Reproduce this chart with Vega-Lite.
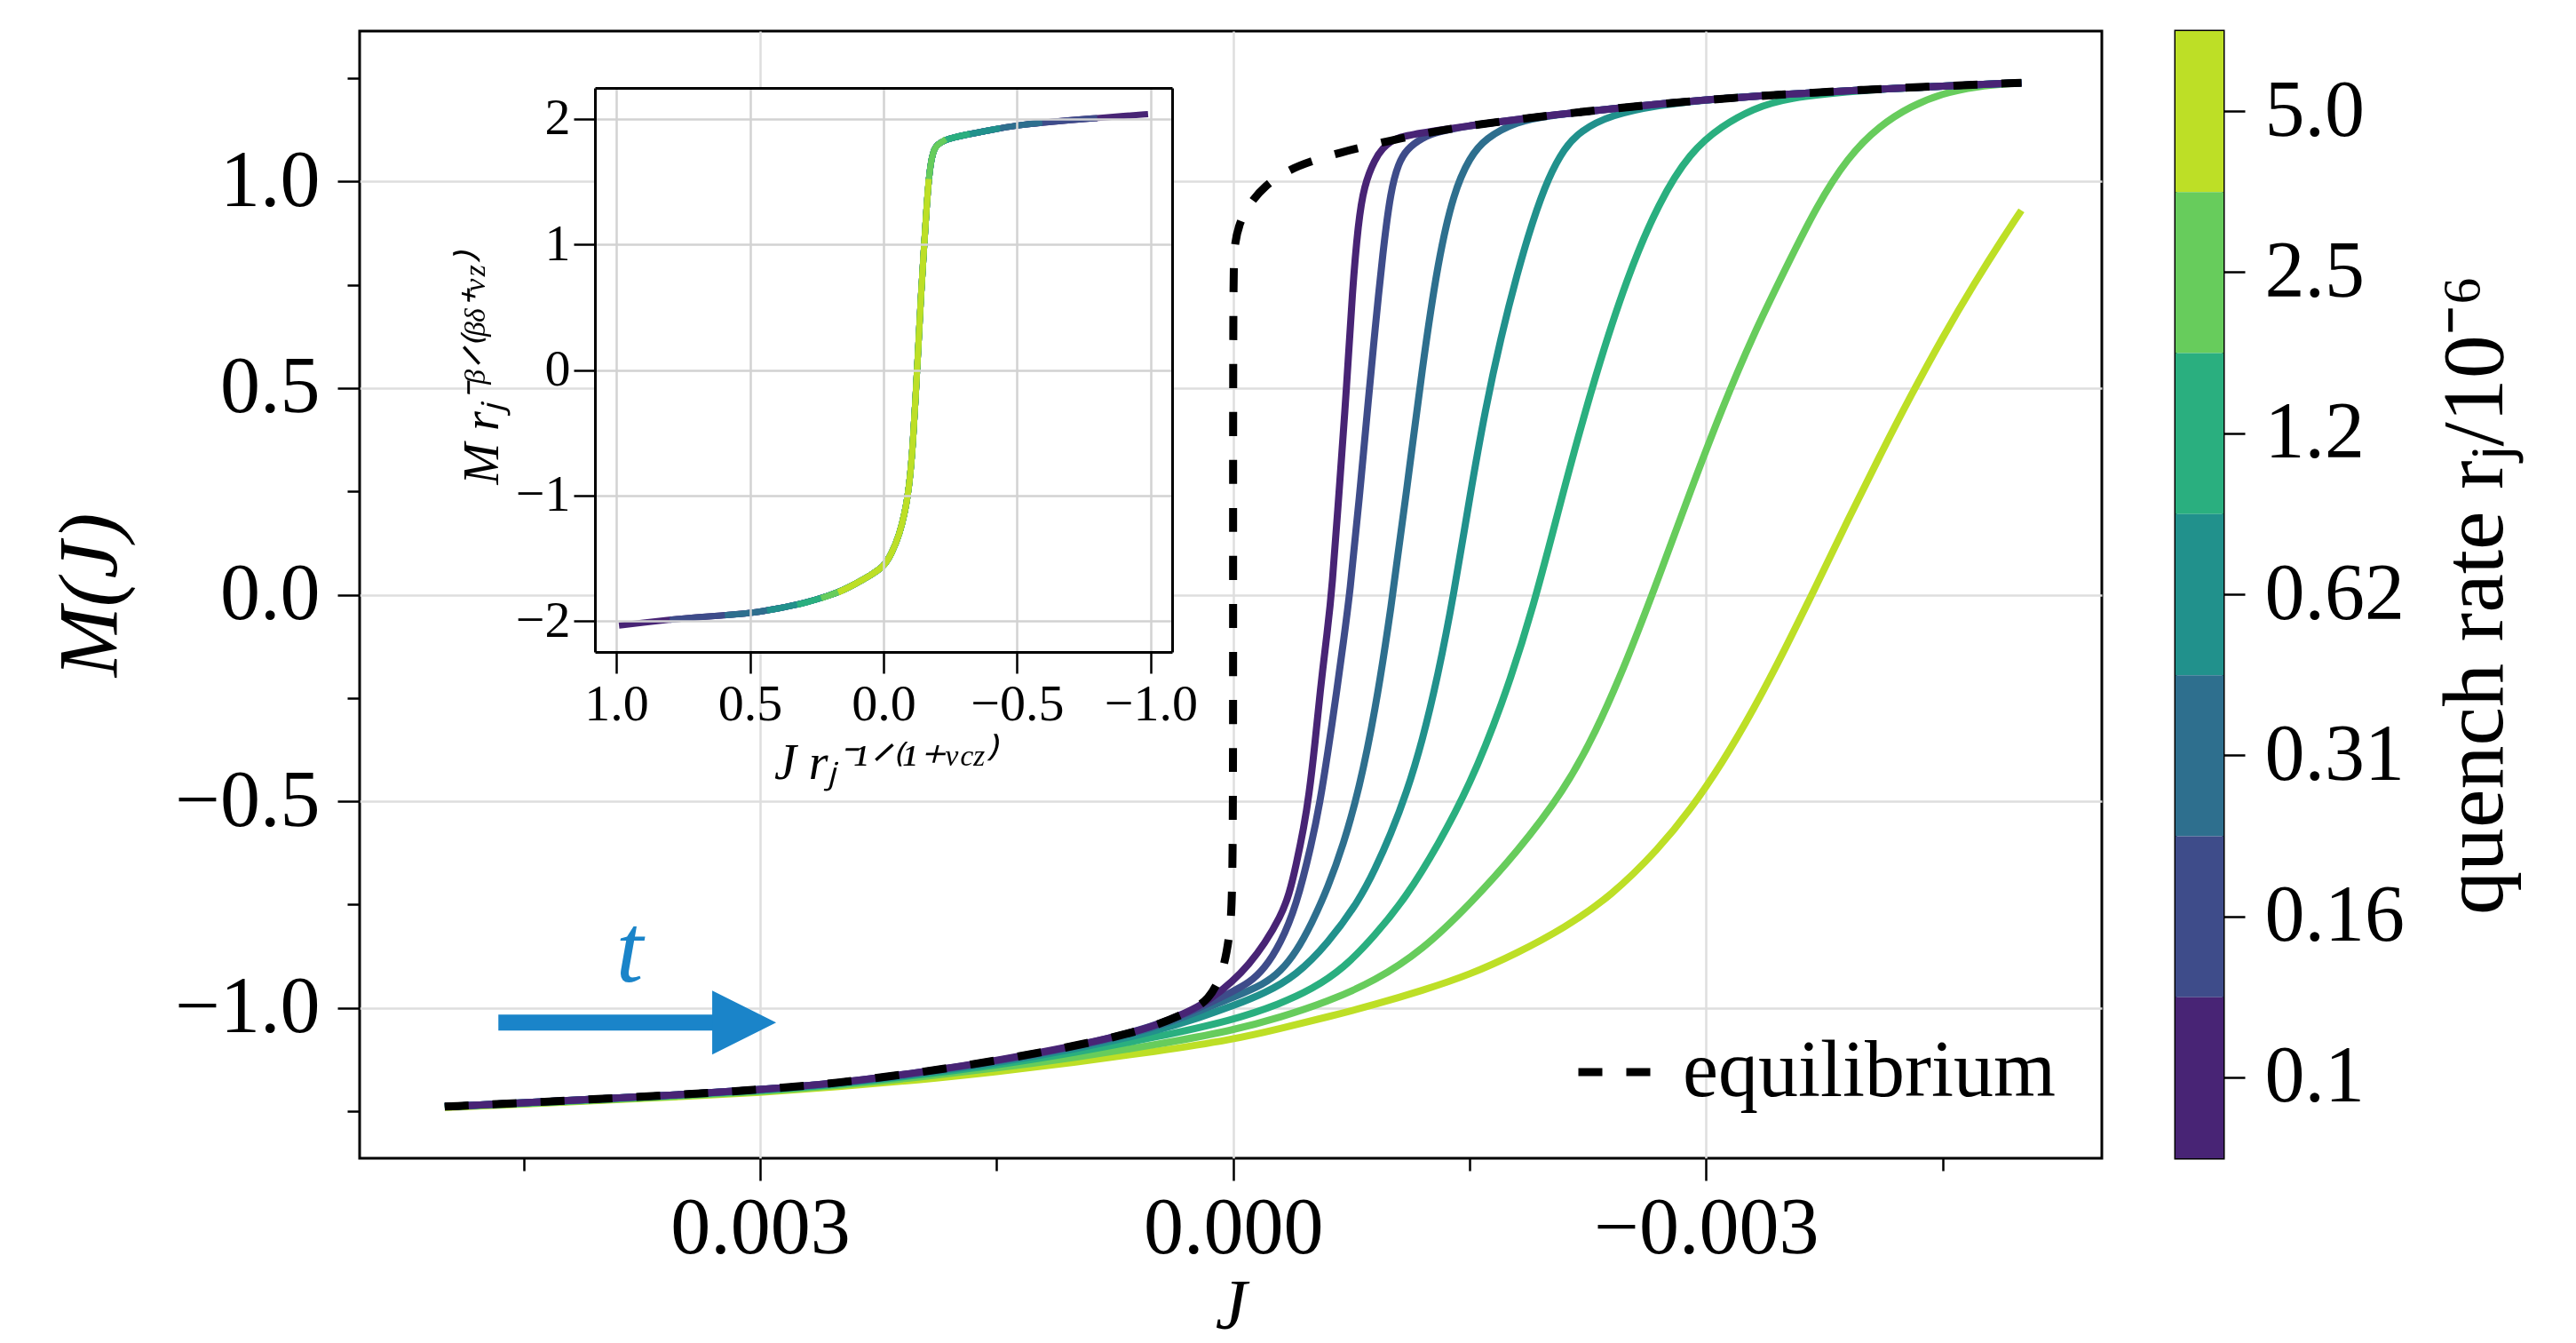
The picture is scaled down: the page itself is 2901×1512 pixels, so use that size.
{
  "$schema": "https://vega.github.io/schema/vega-lite/v6.json",
  "background": "white",
  "padding": {"left": 53, "top": 33, "right": 10, "bottom": 0},
  "bounds": "flush",
  "spacing": 83,
  "config": {
    "view": {"stroke": "black", "strokeWidth": 3},
    "font": "Liberation Serif",
    "axis": {"labelFont": "Liberation Serif", "titleFont": "Liberation Serif", "titleFontWeight": "normal", "labelColor": "black", "titleColor": "black", "tickColor": "black", "domainColor": "black", "labelFlush": false, "labelOverlap": false, "labelLimit": 0, "titleLimit": 0},
    "legend": {"labelFont": "Liberation Serif"}
  },
  "datasets": {
    "main": [
      {"rate":"5.0","J":0.005,"M":-1.241},{"rate":"5.0","J":0.0045,"M":-1.233},{"rate":"5.0","J":0.004,"M":-1.224},{"rate":"5.0","J":0.0035,"M":-1.215},{"rate":"5.0","J":0.003,"M":-1.205},{"rate":"5.0","J":0.0025,"M":-1.191},{"rate":"5.0","J":0.002,"M":-1.175},{"rate":"5.0","J":0.0015,"M":-1.155},{"rate":"5.0","J":0.001,"M":-1.132},{"rate":"5.0","J":0.0005,"M":-1.106},{"rate":"5.0","J":0,"M":-1.077},{"rate":"5.0","J":-0.0003,"M":-1.05},{"rate":"5.0","J":-0.0006,"M":-1.022},{"rate":"5.0","J":-0.0009,"M":-0.992},{"rate":"5.0","J":-0.0012,"M":-0.958},{"rate":"5.0","J":-0.0015,"M":-0.92},{"rate":"5.0","J":-0.0018,"M":-0.868},{"rate":"5.0","J":-0.0021,"M":-0.807},{"rate":"5.0","J":-0.0024,"M":-0.729},{"rate":"5.0","J":-0.0027,"M":-0.615},{"rate":"5.0","J":-0.0029,"M":-0.521},{"rate":"5.0","J":-0.0031,"M":-0.409},{"rate":"5.0","J":-0.0033,"M":-0.279},{"rate":"5.0","J":-0.0035,"M":-0.133},{"rate":"5.0","J":-0.0037,"M":0.023},{"rate":"5.0","J":-0.0039,"M":0.181},{"rate":"5.0","J":-0.0041,"M":0.335},{"rate":"5.0","J":-0.0043,"M":0.483},{"rate":"5.0","J":-0.0045,"M":0.623},{"rate":"5.0","J":-0.0047,"M":0.753},{"rate":"5.0","J":-0.0049,"M":0.873},{"rate":"5.0","J":-0.005,"M":0.93},
      {"rate":"2.5","J":0.005,"M":-1.24},{"rate":"2.5","J":0.0045,"M":-1.232},{"rate":"2.5","J":0.004,"M":-1.223},{"rate":"2.5","J":0.0035,"M":-1.213},{"rate":"2.5","J":0.003,"M":-1.203},{"rate":"2.5","J":0.0025,"M":-1.188},{"rate":"2.5","J":0.002,"M":-1.168},{"rate":"2.5","J":0.0015,"M":-1.146},{"rate":"2.5","J":0.001,"M":-1.12},{"rate":"2.5","J":0.0005,"M":-1.09},{"rate":"2.5","J":0,"M":-1.055},{"rate":"2.5","J":-0.0003,"M":-1.023},{"rate":"2.5","J":-0.0006,"M":-0.985},{"rate":"2.5","J":-0.0009,"M":-0.935},{"rate":"2.5","J":-0.0012,"M":-0.861},{"rate":"2.5","J":-0.0015,"M":-0.75},{"rate":"2.5","J":-0.0018,"M":-0.624},{"rate":"2.5","J":-0.0021,"M":-0.474},{"rate":"2.5","J":-0.0023,"M":-0.334},{"rate":"2.5","J":-0.0025,"M":-0.158},{"rate":"2.5","J":-0.0027,"M":0.042},{"rate":"2.5","J":-0.0029,"M":0.25},{"rate":"2.5","J":-0.0031,"M":0.45},{"rate":"2.5","J":-0.0033,"M":0.63},{"rate":"2.5","J":-0.0035,"M":0.786},{"rate":"2.5","J":-0.0037,"M":0.94},{"rate":"2.5","J":-0.0039,"M":1.06},{"rate":"2.5","J":-0.0041,"M":1.135},{"rate":"2.5","J":-0.0043,"M":1.183},{"rate":"2.5","J":-0.0045,"M":1.213},{"rate":"2.5","J":-0.0047,"M":1.23},{"rate":"2.5","J":-0.005,"M":1.239},
      {"rate":"1.2","J":0.005,"M":-1.239},{"rate":"1.2","J":0.0045,"M":-1.231},{"rate":"1.2","J":0.004,"M":-1.221},{"rate":"1.2","J":0.0035,"M":-1.211},{"rate":"1.2","J":0.003,"M":-1.2},{"rate":"1.2","J":0.0025,"M":-1.185},{"rate":"1.2","J":0.002,"M":-1.163},{"rate":"1.2","J":0.0015,"M":-1.139},{"rate":"1.2","J":0.001,"M":-1.108},{"rate":"1.2","J":0.0005,"M":-1.072},{"rate":"1.2","J":0,"M":-1.03},{"rate":"1.2","J":-0.0003,"M":-0.99},{"rate":"1.2","J":-0.0005,"M":-0.955},{"rate":"1.2","J":-0.0007,"M":-0.905},{"rate":"1.2","J":-0.0009,"M":-0.825},{"rate":"1.2","J":-0.0011,"M":-0.731},{"rate":"1.2","J":-0.0013,"M":-0.606},{"rate":"1.2","J":-0.0015,"M":-0.462},{"rate":"1.2","J":-0.0017,"M":-0.273},{"rate":"1.2","J":-0.0019,"M":-0.04},{"rate":"1.2","J":-0.0021,"M":0.26},{"rate":"1.2","J":-0.0023,"M":0.535},{"rate":"1.2","J":-0.0025,"M":0.77},{"rate":"1.2","J":-0.0027,"M":0.95},{"rate":"1.2","J":-0.0029,"M":1.072},{"rate":"1.2","J":-0.0031,"M":1.135},{"rate":"1.2","J":-0.0033,"M":1.176},{"rate":"1.2","J":-0.0035,"M":1.202},{"rate":"1.2","J":-0.004,"M":1.222},{"rate":"1.2","J":-0.0045,"M":1.231},{"rate":"1.2","J":-0.005,"M":1.239},
      {"rate":"0.62","J":0.005,"M":-1.239},{"rate":"0.62","J":0.0045,"M":-1.23},{"rate":"0.62","J":0.004,"M":-1.22},{"rate":"0.62","J":0.0035,"M":-1.21},{"rate":"0.62","J":0.003,"M":-1.199},{"rate":"0.62","J":0.0025,"M":-1.184},{"rate":"0.62","J":0.002,"M":-1.16},{"rate":"0.62","J":0.0015,"M":-1.134},{"rate":"0.62","J":0.001,"M":-1.1},{"rate":"0.62","J":0.0005,"M":-1.058},{"rate":"0.62","J":0.0002,"M":-1.022},{"rate":"0.62","J":0,"M":-0.995},{"rate":"0.62","J":-0.0002,"M":-0.965},{"rate":"0.62","J":-0.0004,"M":-0.922},{"rate":"0.62","J":-0.0006,"M":-0.845},{"rate":"0.62","J":-0.0008,"M":-0.74},{"rate":"0.62","J":-0.0009,"M":-0.665},{"rate":"0.62","J":-0.001,"M":-0.58},{"rate":"0.62","J":-0.0011,"M":-0.48},{"rate":"0.62","J":-0.0012,"M":-0.355},{"rate":"0.62","J":-0.0013,"M":-0.195},{"rate":"0.62","J":-0.0014,"M":0.0},{"rate":"0.62","J":-0.0015,"M":0.235},{"rate":"0.62","J":-0.0016,"M":0.45},{"rate":"0.62","J":-0.0017,"M":0.625},{"rate":"0.62","J":-0.0018,"M":0.775},{"rate":"0.62","J":-0.0019,"M":0.905},{"rate":"0.62","J":-0.002,"M":1.01},{"rate":"0.62","J":-0.0021,"M":1.08},{"rate":"0.62","J":-0.0022,"M":1.122},{"rate":"0.62","J":-0.0024,"M":1.162},{"rate":"0.62","J":-0.0027,"M":1.185},{"rate":"0.62","J":-0.003,"M":1.198},{"rate":"0.62","J":-0.0035,"M":1.211},{"rate":"0.62","J":-0.004,"M":1.222},{"rate":"0.62","J":-0.0045,"M":1.231},{"rate":"0.62","J":-0.005,"M":1.239},
      {"rate":"0.31","J":0.005,"M":-1.239},{"rate":"0.31","J":0.0045,"M":-1.23},{"rate":"0.31","J":0.004,"M":-1.22},{"rate":"0.31","J":0.0035,"M":-1.21},{"rate":"0.31","J":0.003,"M":-1.198},{"rate":"0.31","J":0.0025,"M":-1.183},{"rate":"0.31","J":0.002,"M":-1.158},{"rate":"0.31","J":0.0015,"M":-1.13},{"rate":"0.31","J":0.001,"M":-1.095},{"rate":"0.31","J":0.0005,"M":-1.05},{"rate":"0.31","J":0.0002,"M":-1.005},{"rate":"0.31","J":0,"M":-0.975},{"rate":"0.31","J":-0.0002,"M":-0.942},{"rate":"0.31","J":-0.0003,"M":-0.912},{"rate":"0.31","J":-0.0004,"M":-0.865},{"rate":"0.31","J":-0.0005,"M":-0.795},{"rate":"0.31","J":-0.0006,"M":-0.71},{"rate":"0.31","J":-0.0007,"M":-0.605},{"rate":"0.31","J":-0.0008,"M":-0.47},{"rate":"0.31","J":-0.0009,"M":-0.285},{"rate":"0.31","J":-0.001,"M":-0.04},{"rate":"0.31","J":-0.0011,"M":0.25},{"rate":"0.31","J":-0.0012,"M":0.55},{"rate":"0.31","J":-0.0013,"M":0.81},{"rate":"0.31","J":-0.0014,"M":0.975},{"rate":"0.31","J":-0.0015,"M":1.058},{"rate":"0.31","J":-0.0016,"M":1.105},{"rate":"0.31","J":-0.0018,"M":1.145},{"rate":"0.31","J":-0.002,"M":1.16},{"rate":"0.31","J":-0.0025,"M":1.18},{"rate":"0.31","J":-0.003,"M":1.198},{"rate":"0.31","J":-0.0035,"M":1.211},{"rate":"0.31","J":-0.004,"M":1.222},{"rate":"0.31","J":-0.0045,"M":1.231},{"rate":"0.31","J":-0.005,"M":1.239},
      {"rate":"0.16","J":0.005,"M":-1.239},{"rate":"0.16","J":0.0045,"M":-1.23},{"rate":"0.16","J":0.004,"M":-1.22},{"rate":"0.16","J":0.0035,"M":-1.21},{"rate":"0.16","J":0.003,"M":-1.198},{"rate":"0.16","J":0.0025,"M":-1.182},{"rate":"0.16","J":0.002,"M":-1.157},{"rate":"0.16","J":0.0015,"M":-1.129},{"rate":"0.16","J":0.001,"M":-1.094},{"rate":"0.16","J":0.0005,"M":-1.046},{"rate":"0.16","J":0.0002,"M":-0.998},{"rate":"0.16","J":0,"M":-0.96},{"rate":"0.16","J":-0.0001,"M":-0.94},{"rate":"0.16","J":-0.0002,"M":-0.905},{"rate":"0.16","J":-0.0003,"M":-0.845},{"rate":"0.16","J":-0.0004,"M":-0.755},{"rate":"0.16","J":-0.0005,"M":-0.6},{"rate":"0.16","J":-0.00055,"M":-0.505},{"rate":"0.16","J":-0.0006,"M":-0.385},{"rate":"0.16","J":-0.00066,"M":-0.227},{"rate":"0.16","J":-0.0007,"M":-0.113},{"rate":"0.16","J":-0.00074,"M":0.0},{"rate":"0.16","J":-0.0008,"M":0.23},{"rate":"0.16","J":-0.00086,"M":0.48},{"rate":"0.16","J":-0.0009,"M":0.64},{"rate":"0.16","J":-0.00095,"M":0.83},{"rate":"0.16","J":-0.001,"M":0.98},{"rate":"0.16","J":-0.00105,"M":1.045},{"rate":"0.16","J":-0.0011,"M":1.078},{"rate":"0.16","J":-0.0012,"M":1.106},{"rate":"0.16","J":-0.0013,"M":1.121},{"rate":"0.16","J":-0.0015,"M":1.135},{"rate":"0.16","J":-0.0017,"M":1.145},{"rate":"0.16","J":-0.002,"M":1.16},{"rate":"0.16","J":-0.0025,"M":1.18},{"rate":"0.16","J":-0.003,"M":1.198},{"rate":"0.16","J":-0.0035,"M":1.211},{"rate":"0.16","J":-0.004,"M":1.222},{"rate":"0.16","J":-0.0045,"M":1.231},{"rate":"0.16","J":-0.005,"M":1.239},
      {"rate":"0.1","J":0.005,"M":-1.239},{"rate":"0.1","J":0.0045,"M":-1.23},{"rate":"0.1","J":0.004,"M":-1.22},{"rate":"0.1","J":0.0035,"M":-1.21},{"rate":"0.1","J":0.003,"M":-1.198},{"rate":"0.1","J":0.0025,"M":-1.182},{"rate":"0.1","J":0.002,"M":-1.157},{"rate":"0.1","J":0.0015,"M":-1.128},{"rate":"0.1","J":0.001,"M":-1.092},{"rate":"0.1","J":0.0007,"M":-1.066},{"rate":"0.1","J":0.0005,"M":-1.044},{"rate":"0.1","J":0.0003,"M":-1.013},{"rate":"0.1","J":0.00015,"M":-0.982},{"rate":"0.1","J":0,"M":-0.935},{"rate":"0.1","J":-0.0001,"M":-0.895},{"rate":"0.1","J":-0.0002,"M":-0.845},{"rate":"0.1","J":-0.0003,"M":-0.78},{"rate":"0.1","J":-0.000355,"M":-0.727},{"rate":"0.1","J":-0.0004,"M":-0.655},{"rate":"0.1","J":-0.00045,"M":-0.56},{"rate":"0.1","J":-0.00048,"M":-0.49},{"rate":"0.1","J":-0.00052,"M":-0.36},{"rate":"0.1","J":-0.00055,"M":-0.24},{"rate":"0.1","J":-0.0006,"M":-0.08},{"rate":"0.1","J":-0.000625,"M":0.0},{"rate":"0.1","J":-0.00068,"M":0.29},{"rate":"0.1","J":-0.00072,"M":0.5},{"rate":"0.1","J":-0.000757,"M":0.74},{"rate":"0.1","J":-0.000794,"M":0.9},{"rate":"0.1","J":-0.00083,"M":0.99},{"rate":"0.1","J":-0.0009,"M":1.055},{"rate":"0.1","J":-0.00095,"M":1.081},{"rate":"0.1","J":-0.001,"M":1.097},{"rate":"0.1","J":-0.00106,"M":1.109},{"rate":"0.1","J":-0.0013,"M":1.124},{"rate":"0.1","J":-0.0015,"M":1.135},{"rate":"0.1","J":-0.0017,"M":1.145},{"rate":"0.1","J":-0.002,"M":1.16},{"rate":"0.1","J":-0.0025,"M":1.18},{"rate":"0.1","J":-0.003,"M":1.198},{"rate":"0.1","J":-0.0035,"M":1.211},{"rate":"0.1","J":-0.004,"M":1.222},{"rate":"0.1","J":-0.0045,"M":1.231},{"rate":"0.1","J":-0.005,"M":1.239}
    ],
    "eq": [
      {"series":"equilibrium","J":0.005,"M":-1.239},{"series":"equilibrium","J":0.0045,"M":-1.23},{"series":"equilibrium","J":0.004,"M":-1.22},{"series":"equilibrium","J":0.0035,"M":-1.21},{"series":"equilibrium","J":0.003,"M":-1.198},{"series":"equilibrium","J":0.0025,"M":-1.182},{"series":"equilibrium","J":0.002,"M":-1.157},{"series":"equilibrium","J":0.0015,"M":-1.128},{"series":"equilibrium","J":0.001,"M":-1.092},{"series":"equilibrium","J":0.0007,"M":-1.066},{"series":"equilibrium","J":0.0005,"M":-1.044},{"series":"equilibrium","J":0.0003,"M":-1.013},{"series":"equilibrium","J":0.00015,"M":-0.982},{"series":"equilibrium","J":0.00006,"M":-0.911},{"series":"equilibrium","J":0.00002,"M":-0.82},{"series":"equilibrium","J":0,"M":-0.72},{"series":"equilibrium","J":0,"M":0.0},{"series":"equilibrium","J":0,"M":0.79},{"series":"equilibrium","J":-0.00001,"M":0.85},{"series":"equilibrium","J":-0.00004,"M":0.9},{"series":"equilibrium","J":-0.0001,"M":0.944},{"series":"equilibrium","J":-0.0002,"M":0.99},{"series":"equilibrium","J":-0.00035,"M":1.028},{"series":"equilibrium","J":-0.0005,"M":1.05},{"series":"equilibrium","J":-0.00068,"M":1.07},{"series":"equilibrium","J":-0.00085,"M":1.086},{"series":"equilibrium","J":-0.0011,"M":1.108},{"series":"equilibrium","J":-0.0013,"M":1.122},{"series":"equilibrium","J":-0.0015,"M":1.135},{"series":"equilibrium","J":-0.0017,"M":1.145},{"series":"equilibrium","J":-0.002,"M":1.16},{"series":"equilibrium","J":-0.0025,"M":1.18},{"series":"equilibrium","J":-0.003,"M":1.198},{"series":"equilibrium","J":-0.0035,"M":1.211},{"series":"equilibrium","J":-0.004,"M":1.222},{"series":"equilibrium","J":-0.0045,"M":1.231},{"series":"equilibrium","J":-0.005,"M":1.239}
    ],
    "inset": [
      {"rate":"0.1","X":0.99,"Y":-2.035},{"rate":"0.1","X":0.9,"Y":-2.012},{"rate":"0.1","X":0.8,"Y":-1.988},{"rate":"0.1","X":0.7,"Y":-1.969},{"rate":"0.1","X":0.6,"Y":-1.954},{"rate":"0.1","X":0.5,"Y":-1.938},{"rate":"0.1","X":0.4,"Y":-1.901},{"rate":"0.1","X":0.3,"Y":-1.859},{"rate":"0.1","X":0.2,"Y":-1.794},{"rate":"0.1","X":0.15,"Y":-1.752},{"rate":"0.1","X":0.1,"Y":-1.697},{"rate":"0.1","X":0.05,"Y":-1.635},{"rate":"0.1","X":0,"Y":-1.57},{"rate":"0.1","X":-0.03,"Y":-1.464},{"rate":"0.1","X":-0.06,"Y":-1.308},{"rate":"0.1","X":-0.08,"Y":-1.13},{"rate":"0.1","X":-0.09,"Y":-1.01},{"rate":"0.1","X":-0.1,"Y":-0.843},{"rate":"0.1","X":-0.11,"Y":-0.585},{"rate":"0.1","X":-0.12,"Y":-0.223},{"rate":"0.1","X":-0.13,"Y":0.17},{"rate":"0.1","X":-0.14,"Y":0.59},{"rate":"0.1","X":-0.15,"Y":0.92},{"rate":"0.1","X":-0.16,"Y":1.26},{"rate":"0.1","X":-0.17,"Y":1.54},{"rate":"0.1","X":-0.18,"Y":1.69},{"rate":"0.1","X":-0.19,"Y":1.76},{"rate":"0.1","X":-0.2,"Y":1.79},{"rate":"0.1","X":-0.23,"Y":1.835},{"rate":"0.1","X":-0.3,"Y":1.869},{"rate":"0.1","X":-0.4,"Y":1.91},{"rate":"0.1","X":-0.5,"Y":1.948},{"rate":"0.1","X":-0.6,"Y":1.97},{"rate":"0.1","X":-0.7,"Y":1.99},{"rate":"0.1","X":-0.8,"Y":2.005},{"rate":"0.1","X":-0.9,"Y":2.022},{"rate":"0.1","X":-0.99,"Y":2.037},
      {"rate":"0.16","X":0.8,"Y":-1.988},{"rate":"0.16","X":0.7,"Y":-1.969},{"rate":"0.16","X":0.6,"Y":-1.954},{"rate":"0.16","X":0.5,"Y":-1.938},{"rate":"0.16","X":0.4,"Y":-1.901},{"rate":"0.16","X":0.3,"Y":-1.859},{"rate":"0.16","X":0.2,"Y":-1.794},{"rate":"0.16","X":0.15,"Y":-1.752},{"rate":"0.16","X":0.1,"Y":-1.697},{"rate":"0.16","X":0.05,"Y":-1.635},{"rate":"0.16","X":0,"Y":-1.57},{"rate":"0.16","X":-0.03,"Y":-1.464},{"rate":"0.16","X":-0.06,"Y":-1.308},{"rate":"0.16","X":-0.08,"Y":-1.13},{"rate":"0.16","X":-0.09,"Y":-1.01},{"rate":"0.16","X":-0.1,"Y":-0.843},{"rate":"0.16","X":-0.11,"Y":-0.585},{"rate":"0.16","X":-0.12,"Y":-0.223},{"rate":"0.16","X":-0.13,"Y":0.17},{"rate":"0.16","X":-0.14,"Y":0.59},{"rate":"0.16","X":-0.15,"Y":0.92},{"rate":"0.16","X":-0.16,"Y":1.26},{"rate":"0.16","X":-0.17,"Y":1.54},{"rate":"0.16","X":-0.18,"Y":1.69},{"rate":"0.16","X":-0.19,"Y":1.76},{"rate":"0.16","X":-0.2,"Y":1.79},{"rate":"0.16","X":-0.23,"Y":1.835},{"rate":"0.16","X":-0.3,"Y":1.869},{"rate":"0.16","X":-0.4,"Y":1.91},{"rate":"0.16","X":-0.5,"Y":1.948},{"rate":"0.16","X":-0.6,"Y":1.97},{"rate":"0.16","X":-0.7,"Y":1.99},{"rate":"0.16","X":-0.8,"Y":2.005},
      {"rate":"0.31","X":0.594,"Y":-1.953},{"rate":"0.31","X":0.5,"Y":-1.938},{"rate":"0.31","X":0.4,"Y":-1.901},{"rate":"0.31","X":0.3,"Y":-1.859},{"rate":"0.31","X":0.2,"Y":-1.794},{"rate":"0.31","X":0.15,"Y":-1.752},{"rate":"0.31","X":0.1,"Y":-1.697},{"rate":"0.31","X":0.05,"Y":-1.635},{"rate":"0.31","X":0,"Y":-1.57},{"rate":"0.31","X":-0.03,"Y":-1.464},{"rate":"0.31","X":-0.06,"Y":-1.308},{"rate":"0.31","X":-0.08,"Y":-1.13},{"rate":"0.31","X":-0.09,"Y":-1.01},{"rate":"0.31","X":-0.1,"Y":-0.843},{"rate":"0.31","X":-0.11,"Y":-0.585},{"rate":"0.31","X":-0.12,"Y":-0.223},{"rate":"0.31","X":-0.13,"Y":0.17},{"rate":"0.31","X":-0.14,"Y":0.59},{"rate":"0.31","X":-0.15,"Y":0.92},{"rate":"0.31","X":-0.16,"Y":1.26},{"rate":"0.31","X":-0.17,"Y":1.54},{"rate":"0.31","X":-0.18,"Y":1.69},{"rate":"0.31","X":-0.19,"Y":1.76},{"rate":"0.31","X":-0.2,"Y":1.79},{"rate":"0.31","X":-0.23,"Y":1.835},{"rate":"0.31","X":-0.3,"Y":1.869},{"rate":"0.31","X":-0.4,"Y":1.91},{"rate":"0.31","X":-0.5,"Y":1.948},{"rate":"0.31","X":-0.594,"Y":1.969},
      {"rate":"0.62","X":0.436,"Y":-1.915},{"rate":"0.62","X":0.4,"Y":-1.901},{"rate":"0.62","X":0.3,"Y":-1.859},{"rate":"0.62","X":0.2,"Y":-1.794},{"rate":"0.62","X":0.15,"Y":-1.752},{"rate":"0.62","X":0.1,"Y":-1.697},{"rate":"0.62","X":0.05,"Y":-1.635},{"rate":"0.62","X":0,"Y":-1.57},{"rate":"0.62","X":-0.03,"Y":-1.464},{"rate":"0.62","X":-0.06,"Y":-1.308},{"rate":"0.62","X":-0.08,"Y":-1.13},{"rate":"0.62","X":-0.09,"Y":-1.01},{"rate":"0.62","X":-0.1,"Y":-0.843},{"rate":"0.62","X":-0.11,"Y":-0.585},{"rate":"0.62","X":-0.12,"Y":-0.223},{"rate":"0.62","X":-0.13,"Y":0.17},{"rate":"0.62","X":-0.14,"Y":0.59},{"rate":"0.62","X":-0.15,"Y":0.92},{"rate":"0.62","X":-0.16,"Y":1.26},{"rate":"0.62","X":-0.17,"Y":1.54},{"rate":"0.62","X":-0.18,"Y":1.69},{"rate":"0.62","X":-0.19,"Y":1.76},{"rate":"0.62","X":-0.2,"Y":1.79},{"rate":"0.62","X":-0.23,"Y":1.835},{"rate":"0.62","X":-0.3,"Y":1.869},{"rate":"0.62","X":-0.4,"Y":1.91},{"rate":"0.62","X":-0.436,"Y":1.924},
      {"rate":"1.2","X":0.323,"Y":-1.869},{"rate":"1.2","X":0.3,"Y":-1.859},{"rate":"1.2","X":0.2,"Y":-1.794},{"rate":"1.2","X":0.15,"Y":-1.752},{"rate":"1.2","X":0.1,"Y":-1.697},{"rate":"1.2","X":0.05,"Y":-1.635},{"rate":"1.2","X":0,"Y":-1.57},{"rate":"1.2","X":-0.03,"Y":-1.464},{"rate":"1.2","X":-0.06,"Y":-1.308},{"rate":"1.2","X":-0.08,"Y":-1.13},{"rate":"1.2","X":-0.09,"Y":-1.01},{"rate":"1.2","X":-0.1,"Y":-0.843},{"rate":"1.2","X":-0.11,"Y":-0.585},{"rate":"1.2","X":-0.12,"Y":-0.223},{"rate":"1.2","X":-0.13,"Y":0.17},{"rate":"1.2","X":-0.14,"Y":0.59},{"rate":"1.2","X":-0.15,"Y":0.92},{"rate":"1.2","X":-0.16,"Y":1.26},{"rate":"1.2","X":-0.17,"Y":1.54},{"rate":"1.2","X":-0.18,"Y":1.69},{"rate":"1.2","X":-0.19,"Y":1.76},{"rate":"1.2","X":-0.2,"Y":1.79},{"rate":"1.2","X":-0.23,"Y":1.835},{"rate":"1.2","X":-0.3,"Y":1.869},{"rate":"1.2","X":-0.323,"Y":1.879},
      {"rate":"2.5","X":0.233,"Y":-1.818},{"rate":"2.5","X":0.2,"Y":-1.794},{"rate":"2.5","X":0.15,"Y":-1.752},{"rate":"2.5","X":0.1,"Y":-1.697},{"rate":"2.5","X":0.05,"Y":-1.635},{"rate":"2.5","X":0,"Y":-1.57},{"rate":"2.5","X":-0.03,"Y":-1.464},{"rate":"2.5","X":-0.06,"Y":-1.308},{"rate":"2.5","X":-0.08,"Y":-1.13},{"rate":"2.5","X":-0.09,"Y":-1.01},{"rate":"2.5","X":-0.1,"Y":-0.843},{"rate":"2.5","X":-0.11,"Y":-0.585},{"rate":"2.5","X":-0.12,"Y":-0.223},{"rate":"2.5","X":-0.13,"Y":0.17},{"rate":"2.5","X":-0.14,"Y":0.59},{"rate":"2.5","X":-0.15,"Y":0.92},{"rate":"2.5","X":-0.16,"Y":1.26},{"rate":"2.5","X":-0.17,"Y":1.54},{"rate":"2.5","X":-0.18,"Y":1.69},{"rate":"2.5","X":-0.19,"Y":1.76},{"rate":"2.5","X":-0.2,"Y":1.79},{"rate":"2.5","X":-0.233,"Y":1.837},
      {"rate":"5.0","X":0.169,"Y":-1.771},{"rate":"5.0","X":0.15,"Y":-1.752},{"rate":"5.0","X":0.1,"Y":-1.697},{"rate":"5.0","X":0.05,"Y":-1.635},{"rate":"5.0","X":0,"Y":-1.57},{"rate":"5.0","X":-0.03,"Y":-1.464},{"rate":"5.0","X":-0.06,"Y":-1.308},{"rate":"5.0","X":-0.08,"Y":-1.13},{"rate":"5.0","X":-0.09,"Y":-1.01},{"rate":"5.0","X":-0.1,"Y":-0.843},{"rate":"5.0","X":-0.11,"Y":-0.585},{"rate":"5.0","X":-0.12,"Y":-0.223},{"rate":"5.0","X":-0.13,"Y":0.17},{"rate":"5.0","X":-0.14,"Y":0.59},{"rate":"5.0","X":-0.15,"Y":0.92},{"rate":"5.0","X":-0.16,"Y":1.26},{"rate":"5.0","X":-0.169,"Y":1.52}
    ],
    "bar": [{"rate":"5.0"},{"rate":"2.5"},{"rate":"1.2"},{"rate":"0.62"},{"rate":"0.31"},{"rate":"0.16"},{"rate":"0.1"}]
  },
  "resolve": {"scale": {"color": "independent"}, "legend": {"strokeDash": "independent", "color": "independent"}},
  "hconcat": [
    {
      "width": 1962,
      "height": 1269,
      "resolve": {"scale": {"x": "independent", "y": "independent"}, "axis": {"x": "independent", "y": "independent"}},
      "layer": [
        {
          "resolve": {"axis": {"x": "independent", "y": "independent"}},
          "layer": [
            {
              "data": {"name": "main"},
              "mark": {"type": "line", "strokeWidth": 8, "interpolate": "basis"},
              "encoding": {
                "x": {"field": "J", "type": "quantitative",
                  "scale": {"domain": [-0.00551, 0.00554], "reverse": true, "nice": false, "zero": false},
                  "axis": {"orient": "bottom", "values": [0.003, 0, -0.003], "format": ".3f",
                    "tickSize": 25, "tickWidth": 2.5, "domain": false, "grid": true, "gridColor": "#dedede", "gridWidth": 2.5,
                    "labelFontSize": 90, "labelPadding": 10, "title": "J", "titleFontSize": 80, "titleFontStyle": "italic", "titleBaseline": "bottom", "titleY": 208, "zindex": 0}},
                "y": {"field": "M", "type": "quantitative",
                  "scale": {"domain": [-1.364, 1.364], "nice": false, "zero": false},
                  "axis": {"orient": "left", "values": [-1, -0.5, 0, 0.5, 1], "format": ".1f",
                    "tickSize": 25, "tickWidth": 2.5, "domain": false, "grid": true, "gridColor": "#dedede", "gridWidth": 2.5,
                    "labelFontSize": 90, "labelPadding": 20, "title": "M(J)", "titleFontSize": 95, "titleFontStyle": "italic", "titlePadding": 54, "zindex": 0}},
                "color": {"field": "rate", "type": "ordinal",
                  "scale": {"domain": ["0.1", "0.16", "0.31", "0.62", "1.2", "2.5", "5.0"], "range": ["#482475", "#3e4c8a", "#2e6f8e", "#21918c", "#2aaf7f", "#67cc5c", "#bddf26"]},
                  "legend": null},
                "order": {"value": null}
              }
            },
            {
              "data": {"name": "eq"},
              "mark": {"type": "line", "stroke": "black", "strokeWidth": 9, "interpolate": "basis", "strokeCap": "butt"},
              "encoding": {
                "x": {"field": "J", "type": "quantitative", "axis": null},
                "y": {"field": "M", "type": "quantitative", "axis": null},
                "strokeDash": {"field": "series", "type": "nominal",
                  "scale": {"domain": ["equilibrium"], "range": [[27, 27]]},
                  "legend": {"orient": "bottom-right", "title": null, "offset": 52, "padding": 0, "labelFontSize": 90, "labelFont": "Liberation Serif", "labelColor": "black", "labelLimit": 0, "symbolType": "stroke", "symbolSize": 6889, "symbolStrokeWidth": 9, "symbolStrokeColor": "black", "labelOffset": 30}},
                "order": {"value": null}
              }
            },
            {
              "data": {"values": [{}]},
              "mark": {"type": "rule", "stroke": "#1a84c9", "strokeWidth": 18, "strokeCap": "butt"},
              "encoding": {
                "x": {"datum": 0.00466, "type": "quantitative", "axis": null},
                "x2": {"datum": 0.00328},
                "y": {"datum": -1.0357, "type": "quantitative", "axis": null}
              }
            },
            {
              "data": {"values": [{}]},
              "mark": {"type": "point", "shape": "M-1,-1L1,0L-1,1Z", "size": 5184, "filled": true, "fill": "#1a84c9", "opacity": 1, "strokeWidth": 0},
              "encoding": {
                "x": {"datum": 0.003101, "type": "quantitative", "axis": null},
                "y": {"datum": -1.0357, "type": "quantitative", "axis": null}
              }
            },
            {
              "data": {"values": [{}]},
              "mark": {"type": "text", "text": "t", "font": "Liberation Serif", "fontStyle": "italic", "fontSize": 110, "fill": "#1a84c9", "align": "center", "baseline": "alphabetic"},
              "encoding": {
                "x": {"datum": 0.003827, "type": "quantitative", "axis": null},
                "y": {"datum": -0.937, "type": "quantitative", "axis": null}
              }
            }
          ]
        },
        {
          "data": {"name": "eq"},
          "mark": {"type": "point", "opacity": 0, "size": 1},
          "encoding": {
            "x": {"field": "J", "type": "quantitative",
              "scale": {"domain": [-0.00551, 0.00554], "reverse": true, "nice": false, "zero": false},
              "axis": {"orient": "bottom", "values": [0.0045, 0.0015, -0.0015, -0.0045], "labels": false, "tickSize": 14, "tickWidth": 2.5, "domain": false, "grid": false, "title": null, "zindex": 0}},
            "y": {"field": "M", "type": "quantitative",
              "scale": {"domain": [-1.364, 1.364], "nice": false, "zero": false},
              "axis": {"orient": "left", "values": [-1.25, -0.75, -0.25, 0.25, 0.75, 1.25], "labels": false, "tickSize": 14, "tickWidth": 2.5, "domain": false, "grid": false, "title": null, "zindex": 0}}
          }
        },
        {
          "layer": [
            {
              "data": {"values": [{}]},
              "mark": {"type": "rect", "fill": "white"},
              "encoding": {
                "x": {"datum": 1.08, "type": "quantitative",
                  "scale": {"domain": [-1.08, 1.08], "reverse": true, "range": [265, 915], "nice": false, "zero": false},
                  "axis": {"orient": "top", "offset": -64, "values": [-1, -0.5, 0, 0.5, 1], "labels": false, "ticks": false, "domain": true, "domainWidth": 3, "grid": true, "gridColor": "#d2d2d2", "gridWidth": 2.5, "title": null, "zindex": 1}},
                "x2": {"datum": -1.08},
                "y": {"datum": -2.245, "type": "quantitative",
                  "scale": {"domain": [-2.245, 2.245], "range": [699, 64], "nice": false, "zero": false},
                  "axis": {"orient": "right", "offset": -1047, "labels": false, "ticks": false, "domain": true, "domainWidth": 3, "grid": false, "title": null, "zindex": 1}},
                "y2": {"datum": 2.245}
              }
            },
            {
              "data": {"name": "inset"},
              "mark": {"type": "line", "strokeWidth": 7, "interpolate": "basis"},
              "encoding": {
                "x": {"field": "X", "type": "quantitative",
                  "axis": {"orient": "bottom", "offset": -570, "values": [1, 0.5, 0, -0.5, -1], "format": ".1f", "labelFontSize": 58, "tickSize": 24, "tickWidth": 2.5, "labelPadding": 6, "domain": true, "domainWidth": 3, "grid": false, "title": "J rⱼ⁻¹ᐟ⁽¹⁺ᵛᶜᶻ⁾", "titleFontSize": 56, "titleFontStyle": "italic", "titlePadding": 10, "zindex": 1}},
                "y": {"field": "Y", "type": "quantitative",
                  "axis": {"orient": "left", "offset": -265, "values": [-2, -1, 0, 1, 2], "format": "d", "labelFontSize": 58, "tickSize": 24, "tickWidth": 2.5, "labelPadding": 4, "domain": true, "domainWidth": 3, "grid": true, "gridColor": "#d2d2d2", "gridWidth": 2.5, "title": "M rⱼ⁻ᵝᐟ⁽ᵝᵟ⁺ᵛᶻ⁾", "titleFontSize": 56, "titleFontStyle": "italic", "titlePadding": 8, "zindex": 1}},
                "color": {"field": "rate", "type": "ordinal",
                  "scale": {"domain": ["0.1", "0.16", "0.31", "0.62", "1.2", "2.5", "5.0"], "range": ["#482475", "#3e4c8a", "#2e6f8e", "#21918c", "#2aaf7f", "#67cc5c", "#bddf26"]},
                  "legend": null},
                "order": {"value": null}
              }
            }
          ]
        }
      ]
    },
    {
      "width": 54,
      "height": 1269,
      "data": {"name": "bar"},
      "mark": {"type": "rect"},
      "encoding": {
        "y": {"field": "rate", "type": "ordinal", "sort": ["5.0", "2.5", "1.2", "0.62", "0.31", "0.16", "0.1"],
          "scale": {"paddingInner": 0, "paddingOuter": 0},
          "axis": {"orient": "right", "domain": false, "tickSize": 24, "tickWidth": 2.5, "labelFontSize": 90, "labelPadding": 22, "labelAngle": 0, "title": "quench rate rⱼ/10⁻⁶", "titleFontSize": 98, "titleAngle": 270, "titleBaseline": "top", "titlePadding": 36}},
        "color": {"field": "rate", "type": "ordinal",
          "scale": {"domain": ["0.1", "0.16", "0.31", "0.62", "1.2", "2.5", "5.0"], "range": ["#482475", "#3e4c8a", "#2e6f8e", "#21918c", "#2aaf7f", "#67cc5c", "#bddf26"]},
          "legend": null}
      }
    }
  ]
}
